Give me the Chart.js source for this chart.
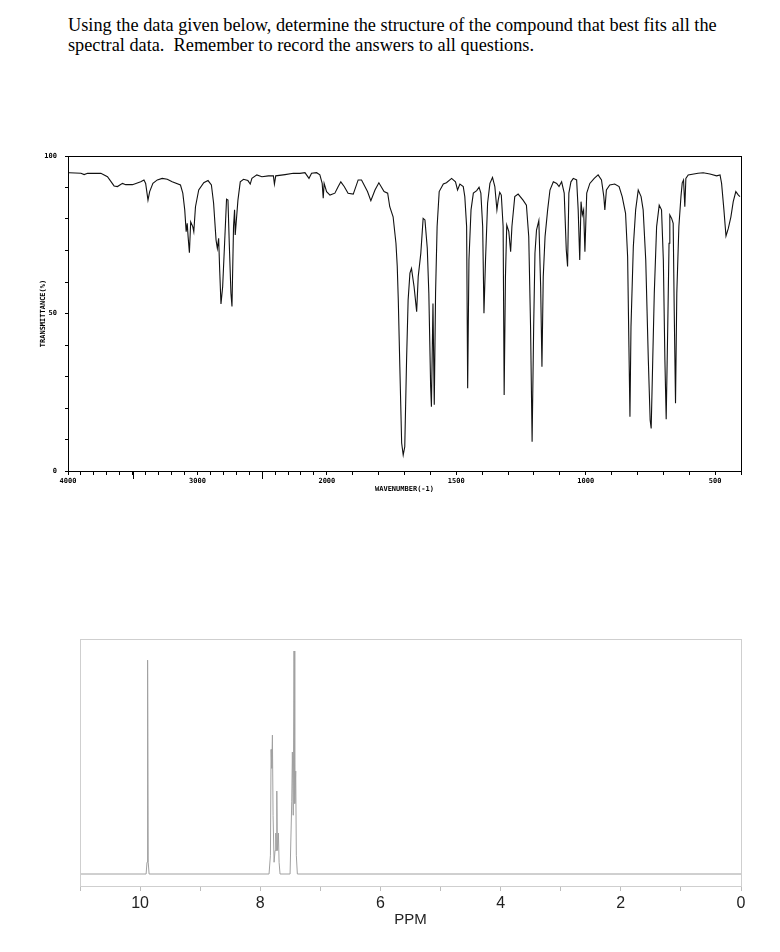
<!DOCTYPE html>
<html>
<head>
<meta charset="utf-8">
<script src="https://cdn.jsdelivr.net/npm/chart.js@4.4.1/dist/chart.umd.min.js"></script>
<style>
  body { margin: 0; background: #fff; width: 780px; height: 952px; position: relative; overflow: hidden; }
  #question { position: absolute; left: 68px; top: 15px; font-family: 'Liberation Serif', 'Times New Roman', serif; font-size: 18.3px; line-height: 20px; color: #000; white-space: nowrap; }
  #IR { position: absolute; left: 0; top: 140px; }
  #NMR { position: absolute; left: 0; top: 630px; }
</style>
</head>
<body>
<div id="question">Using the data given below, determine the structure of the compound that best fits all the<br>spectral data.&nbsp; Remember to record the answers to all questions.</div>
<canvas id="IR" width="780" height="360"></canvas>
<canvas id="NMR" width="780" height="320"></canvas>
<script>
//IR - wavenumber (cm-1) / transmittance (%)
const irWave = [4000,3990,3900,3875,3849,3746,3695,3644,3618,3579,3554,3502,3438,3413,3400,3382,3369,3344,3310,3272,
  3233,3195,3131,3113,3098,3087,3079,3072,3062,3052,3036,3028,3015,2990,2951,2918,2892,2875,2856,2846,
  2836,2828,2818,2805,2790,2775,2764,2754,2741,2733,2721,2713,2708,2687,2669,2644,2610,2592,2579,2541,
  2502,2451,2413,2405,2395,2323,2259,2208,2169,2138,2118,2079,2054,2036,2028,2021,2002,1988,1969,1956,
  1946,1933,1918,1898,1879,1866,1843,1830,1814,1799,1779,1765,1757,1744,1733,1728,1724,1718,1711,1705,
  1699,1692,1686,1679,1673,1663,1653,1647,1637,1628,1621,1612,1606,1599,1596,1590,1585,1580,1574,1566,
  1550,1538,1518,1503,1495,1486,1473,1467,1460,1456,1451,1443,1434,1421,1412,1405,1398,1393,1387,1379,
  1370,1360,1351,1343,1338,1332,1326,1319,1315,1310,1305,1297,1290,1285,1274,1261,1242,1229,1220,1213,
  1207,1201,1196,1190,1181,1174,1169,1164,1157,1147,1138,1125,1112,1103,1093,1083,1075,1070,1065,1057,
  1048,1035,1029,1023,1018,1013,1008,1003,996,984,967,952,939,930,926,920,907,888,871,859,
  846,838,833,829,825,816,807,797,786,778,768,758,751,747,741,735,726,716,707,700,
  694,689,683,678,675,668,662,658,653,648,640,632,627,622,617,613,604,566,546,520,
  494,481,475,466,458,449,439,430,420,410,404];
const irTrans = [94.7,94.7,94.5,94.1,94.5,94.5,93.4,90.5,90.3,91.3,90.9,90.9,91.8,92.4,91.3,86.0,88.7,91.3,92.4,92.9,
  92.6,91.8,90.8,88.2,82.9,76.0,78.6,74.4,69.3,79.1,77.6,76.0,83.9,89.2,91.5,92.2,90.8,85.0,73.3,70.7,
  73.9,63.8,53.0,58.5,72.3,86.3,86.0,72.3,56.4,52.2,77.6,82.9,74.9,86.0,91.8,92.6,92.2,91.1,92.9,94.0,
  93.4,93.7,93.7,91.1,93.7,94.1,94.5,94.5,94.7,92.9,94.5,94.7,94.0,91.3,86.6,91.3,88.7,87.6,88.2,90.3,
  91.8,90.3,88.2,87.9,92.4,92.4,88.7,85.8,89.2,91.5,88.7,88.2,83.9,80.7,72.3,64.9,54.3,33.0,8.9,5.1,
  7.7,35.2,54.3,62.8,64.3,58.5,50.6,61.7,69.1,80.2,79.7,70.7,56.4,26.8,20.4,53.2,21.0,56.4,77.6,88.7,
  91.1,91.5,92.9,91.8,89.2,91.1,90.3,87.1,77.6,26.3,67.0,82.9,88.2,89.0,90.1,88.2,77.6,50.1,67.0,85.0,
  91.3,93.2,90.3,82.9,86.0,88.5,87.6,77.6,24.1,61.7,78.1,76.0,69.6,77.6,87.1,87.9,86.0,84.4,74.4,45.8,
  9.3,45.8,69.1,76.5,79.5,58.5,33.1,61.7,74.4,82.9,89.2,91.8,91.3,90.3,91.8,88.2,70.2,64.9,88.2,91.8,
  92.9,92.4,82.9,67.0,85.5,81.3,82.9,69.6,88.2,91.3,92.9,94.0,92.4,87.1,82.9,89.2,90.8,91.1,90.3,87.1,
  81.8,68.0,39.5,17.2,45.8,71.2,82.9,89.2,87.1,82.9,67.0,35.2,16.2,13.5,35.2,56.4,77.6,84.4,82.9,67.0,
  35.2,16.4,45.8,72.3,81.3,80.2,78.6,51.1,21.5,56.4,77.6,87.1,91.5,92.4,83.9,92.9,94.0,94.5,94.7,94.3,
  93.7,94.0,91.3,82.9,74.6,77.0,80.7,85.5,88.7,87.6,87.1];
const irTickLabels = [4000, 3000, 2000, 1500, 1000, 500];
const irLongTicks = [3500, 2500];
const irYLabels = [0, 50, 100];

//NMR - chemical shift (ppm) / intensity
const nmrPpm = [11, 9.90, 9.885, 9.875, 9.865, 9.85,
  7.854, 7.831, 7.820, 7.809, 7.798, 7.787, 7.770, 7.754, 7.742, 7.734, 7.725, 7.715, 7.698, 7.687, 7.671,
  7.504, 7.476, 7.466, 7.451, 7.438, 7.426, 7.410, 7.400, 7.383, 0];
const nmrInt = [0, 0, 5, 91, 5, 0,
  0, 8, 53, 45, 59.1, 25, 5, 10, 17.4, 10, 35.3, 10, 17.4, 5, 0,
  0, 31, 51.9, 25, 94.9, 30, 43.8, 8, 0, 0];
const nmrTickLabels = [0, 2, 4, 6, 8, 10];

//EJE IR: 4000-2000 a media escala, 2000-400 a escala doble
const toAxis = w => w >= 2000 ? 4000 - w : 2000 + 2 * (2000 - w);
const fromAxis = u => Math.round(u <= 2000 ? 4000 - u : 2000 - (u - 2000) / 2);
const irTickMarks = [];
for (let w = 4000; w >= 400; w -= 100) irTickMarks.push(w);

const pixelFont = { family: 'DejaVu Sans Mono', size: 7, weight: 'bold' };

//MARCO DEL AREA
const frame = {
    id: 'frame',
    afterDraw(chart, args, opts) {
        const { ctx, chartArea: a } = chart;
        ctx.save();
        ctx.strokeStyle = opts.color;
        ctx.lineWidth = 1;
        ctx.strokeRect(Math.round(a.left) + 0.5, Math.round(a.top) + 0.5, Math.round(a.width), Math.round(a.height));
        ctx.restore();
    }
};

//MARCAS LARGAS EJE X
const longTicks = {
    id: 'longTicks',
    afterDraw(chart, args, opts) {
        if (!opts.values) return;
        const { ctx } = chart;
        const x = chart.scales.x;
        ctx.save();
        ctx.strokeStyle = '#000';
        ctx.lineWidth = 1;
        opts.values.forEach(w => {
            const px = Math.round(x.getPixelForValue(toAxis(w))) + 0.5;
            ctx.beginPath();
            ctx.moveTo(px, x.top);
            ctx.lineTo(px, x.top + 8);
            ctx.stroke();
        });
        ctx.restore();
    }
};

new Chart(document.getElementById('IR').getContext('2d'), {
    type: 'line',
    plugins: [frame, longTicks],
    data: {
        datasets: [{
            data: irWave.map((w, i) => ({ x: toAxis(w), y: irTrans[i] })),
            borderColor: '#111',
            borderWidth: 1.1,
            pointRadius: 0,
            tension: 0,
            fill: false,
        }]
    },
    options: {
        responsive: false,
        animation: false,
        layout: { padding: { top: 16, right: 39, left: 0, bottom: 0 } },
        plugins: {
            legend: { display: false },
            tooltip: { enabled: false },
            frame: { color: '#000' },
            longTicks: { values: irLongTicks },
        },
        scales: {
            x: {
                type: 'linear',
                min: 0,
                max: 5200,
                afterBuildTicks: s => { s.ticks = irTickMarks.map(w => ({ value: toAxis(w) })); },
                afterFit: s => { s.height = 29; },
                grid: { drawOnChartArea: false, drawTicks: true, tickLength: 4, color: '#000' },
                border: { color: '#000', width: 1 },
                ticks: {
                    autoSkip: false, maxRotation: 0, padding: 2, color: '#000', font: pixelFont,
                    callback: v => { const w = fromAxis(v); return irTickLabels.includes(w) ? String(w) : ''; }
                },
                title: { display: true, text: 'WAVENUMBER(-1)', color: '#000', font: pixelFont, padding: { top: 0, bottom: 7 } }
            },
            y: {
                min: 0,
                max: 100,
                afterFit: s => { s.width = 68; },
                grid: { drawOnChartArea: false, tickLength: 3, color: '#000' },
                border: { color: '#000', width: 1 },
                ticks: {
                    stepSize: 10, padding: 8, color: '#000', font: pixelFont,
                    callback: v => irYLabels.includes(v) ? String(v) : ''
                },
                title: { display: true, text: 'TRANSMITTANCE(%)', color: '#000', font: pixelFont, padding: { top: 39, bottom: 0 } }
            }
        }
    }
});

new Chart(document.getElementById('NMR').getContext('2d'), {
    type: 'line',
    plugins: [frame],
    data: {
        datasets: [{
            data: nmrPpm.map((p, i) => ({ x: p, y: nmrInt[i] })),
            borderColor: '#a0a0a0',
            borderWidth: 1,
            pointRadius: 0,
            tension: 0,
            fill: false,
        }]
    },
    options: {
        responsive: false,
        animation: false,
        layout: { padding: { top: 9, right: 39, left: 80, bottom: 0 } },
        plugins: {
            legend: { display: false },
            tooltip: { enabled: false },
            frame: { color: '#cfcfcf' },
        },
        scales: {
            x: {
                type: 'linear',
                reverse: true,
                min: 0,
                max: 11,
                afterFit: s => { s.height = 64; },
                grid: { drawOnChartArea: false, tickLength: 5, color: '#bdbdbd' },
                border: { color: '#bdbdbd', width: 1 },
                ticks: {
                    stepSize: 1, autoSkip: false, maxRotation: 0, padding: 3, color: '#222',
                    font: { family: 'Liberation Sans', size: 16 },
                    callback: v => nmrTickLabels.includes(v) ? String(v) : ''
                },
                title: { display: true, text: 'PPM', color: '#222', font: { family: 'Liberation Sans', size: 15 }, padding: { top: 0, bottom: 21 } }
            },
            y: { display: false, min: -5.1, max: 100 }
        }
    }
});
</script>
</body>
</html>
